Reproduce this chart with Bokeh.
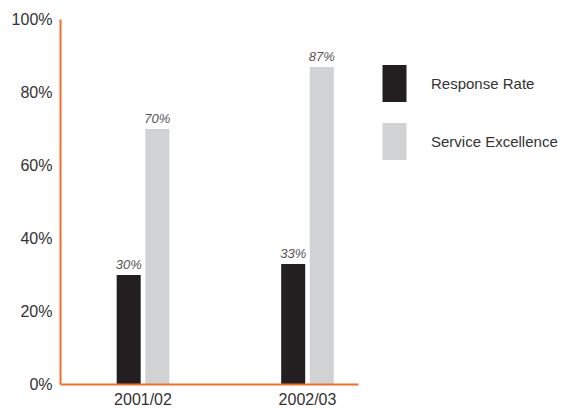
from bokeh.plotting import figure
from bokeh.models import FixedTicker, PrintfTickFormatter, Legend, LegendItem, ColumnDataSource, Range1d
from bokeh.core.properties import value
from bokeh.embed import file_html
from bokeh.resources import INLINE

categories = ["2001/02", "2002/03"]
response_rate = [30, 33]
service_excellence = [70, 87]
series_names = ["Response Rate", "Service Excellence"]
y_ticks = [0, 20, 40, 60, 80, 100]

ORANGE = "#f26f2a"
DARK = "#231f20"
GRAY = "#d1d2d4"
FONT = "Liberation Sans"

idx = list(range(len(categories)))
off = 0.087
bw = 0.146

p = figure(width=564, height=408, frame_width=298, frame_height=365,
           x_range=Range1d(-0.5015, 1.31), y_range=Range1d(0, 100),
           output_backend="svg", toolbar_location=None,
           min_border_left=60, min_border_top=19, min_border_bottom=24, min_border_right=206)
p.outline_line_color = None
p.xgrid.visible = False
p.ygrid.visible = False
p.background_fill_color = "white"
p.border_fill_color = "white"

src_r = ColumnDataSource(dict(x=[i - off for i in idx], top=response_rate,
                              lab=[f"{v}%" for v in response_rate]))
src_s = ColumnDataSource(dict(x=[i + off for i in idx], top=service_excellence,
                              lab=[f"{v}%" for v in service_excellence]))

r1 = p.vbar(x="x", top="top", width=bw, bottom=0, source=src_r, fill_color=DARK, line_color=None)
r2 = p.vbar(x="x", top="top", width=bw, bottom=0, source=src_s, fill_color=GRAY, line_color=None)

for src in (src_r, src_s):
    p.text(x="x", y="top", text="lab", source=src, text_align="center", text_baseline="bottom",
           y_offset=-3, text_font=value(FONT), text_font_style="italic", text_font_size="13px",
           text_color="#555555")

p.yaxis.ticker = FixedTicker(ticks=y_ticks)
p.yaxis.formatter = PrintfTickFormatter(format="%d%%")
p.yaxis.axis_line_color = ORANGE
p.yaxis.axis_line_width = 2
p.yaxis.major_tick_line_color = None
p.yaxis.minor_tick_line_color = None
p.yaxis.major_tick_out = 0
p.yaxis.minor_tick_out = 0
p.yaxis.major_label_text_font = FONT
p.yaxis.major_label_text_font_size = "16px"
p.yaxis.major_label_text_color = "#333333"
p.yaxis.major_label_standoff = 8

p.xaxis.ticker = FixedTicker(ticks=idx)
p.xaxis.major_label_overrides = {i: c for i, c in zip(idx, categories)}
p.xaxis.axis_line_color = ORANGE
p.xaxis.axis_line_width = 2
p.xaxis.major_tick_line_color = None
p.xaxis.minor_tick_line_color = None
p.xaxis.major_tick_out = 0
p.xaxis.minor_tick_out = 0
p.xaxis.major_label_text_font = FONT
p.xaxis.major_label_text_font_size = "16px"
p.xaxis.major_label_text_color = "#333333"
p.xaxis.major_label_standoff = 6

legend = Legend(items=[LegendItem(label=series_names[0], renderers=[r1]),
                       LegendItem(label=series_names[1], renderers=[r2])],
                location=(21, 220), orientation="vertical",
                glyph_width=30, glyph_height=46, spacing=12, label_standoff=22,
                padding=0, margin=0, border_line_color=None, background_fill_alpha=0,
                label_text_font=FONT, label_text_font_size="15px", label_text_color="#333333")
p.add_layout(legend, "right")

open("out.html", "w").write(file_html(p, INLINE))
